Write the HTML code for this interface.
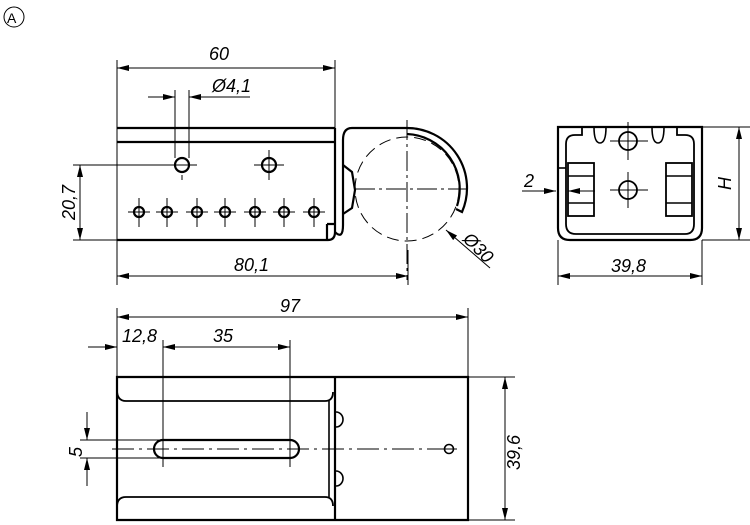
<!DOCTYPE html>
<html><head><meta charset="utf-8"><style>
html,body{margin:0;padding:0;background:#fff}
svg{display:block}
text{font-family:"Liberation Sans",sans-serif;font-style:italic;font-size:18px;fill:#000}
</style></head><body>
<svg width="750" height="525" viewBox="0 0 750 525" xmlns="http://www.w3.org/2000/svg">
<defs>
<marker id="a" viewBox="0 0 12 6" refX="12" refY="3" markerWidth="12" markerHeight="6" orient="auto-start-reverse" markerUnits="userSpaceOnUse"><path d="M0,0 L12,3 L0,6z" fill="#000"/></marker>
</defs>
<g fill="none" stroke="#000" stroke-width="1">
<circle cx="14" cy="17" r="10"/>
</g>
<text x="7" y="23" style="font-style:normal;font-size:14px">A</text>

<!-- TOP-LEFT VIEW -->
<g fill="none" stroke="#000" stroke-width="2.2">
<path d="M117,128 H335 M117,142 H335 M117,240 H328 Q335,240 335,232 V128"/>
<path d="M335,232 Q343,240 343,225 V140 Q343,128 352,128 H407"/>
<path d="M407,128 A60,60 0 0 1 462,212 L456,209 M407,134 A55,55 0 0 1 457,206"/>
<path d="M343,165 L352,172 L355,190 L352,208 L343,214"/>
<path d="M327,224 H335 M327,224 V240"/>
<circle cx="182" cy="165" r="7"/><circle cx="269" cy="165" r="7"/>
<circle cx="139" cy="212" r="5"/><circle cx="167" cy="212" r="5"/><circle cx="197" cy="212" r="5"/><circle cx="225" cy="212" r="5"/><circle cx="255" cy="212" r="5"/><circle cx="284" cy="212" r="5"/><circle cx="314" cy="212" r="5"/>
</g>
<g fill="none" stroke="#000" stroke-width="1">
<circle cx="407" cy="189" r="52" stroke-dasharray="12,6"/>
<path d="M407,120 V280 M355,189 H470" stroke-dasharray="20,4,3,4"/>
<path d="M139,198 V227 M167,198 V227 M197,198 V227 M225,198 V227 M255,198 V227 M284,198 V227 M314,198 V227 M128,212 H150 M156,212 H178 M186,212 H208 M214,212 H236 M244,212 H266 M273,212 H295 M303,212 H325"/>
<path d="M269,150 V180 M254,165 H284 M182,175 V180 M168,165 H197"/>
<path d="M117,60 V285 M335,60 V128 M408,250 V285"/>
<path d="M175,90 V158 M189,90 V158"/>
<path d="M73,165 H182 M73,240 H117"/>
<line x1="117" y1="68" x2="335" y2="68" marker-start="url(#a)" marker-end="url(#a)"/>
<line x1="148" y1="97" x2="175" y2="97" marker-end="url(#a)"/>
<line x1="250" y1="97" x2="189" y2="97" marker-end="url(#a)"/>
<line x1="80" y1="165" x2="80" y2="240" marker-start="url(#a)" marker-end="url(#a)"/>
<line x1="117" y1="276" x2="408" y2="276" marker-start="url(#a)" marker-end="url(#a)"/>
<line x1="490" y1="268" x2="446" y2="230" marker-end="url(#a)"/>
</g>
<text x="209" y="60">60</text>
<text x="212" y="92">Ø4,1</text>
<text x="234" y="271">80,1</text>
<text transform="translate(75,220) rotate(-90)">20,7</text>
<text transform="translate(462,240) rotate(45)">Ø30</text>

<!-- RIGHT VIEW -->
<g fill="none" stroke="#000" stroke-width="2.2">
<path d="M558,127 H702 V228 Q702,240 690,240 H570 Q558,240 558,228 Z"/>
<path d="M582,127 V135 H575 Q566,135 566,144 V224 Q566,234 576,234 H685 Q694,234 694,224 V144 Q694,135 685,135 H677 V127" stroke-width="1.8"/>
<path d="M594,127 Q594,143 600,143 Q606,143 606,127" stroke-width="1.6"/>
<path d="M652,127 Q652,143 658,143 Q664,143 664,127" stroke-width="1.6"/>
<rect x="568" y="163" width="26" height="53" stroke-width="1.8"/>
<rect x="666" y="163" width="26" height="53" stroke-width="1.8"/>
<path d="M568,176 H594 M568,203 H594 M666,176 H692 M666,203 H692" stroke-width="1.6"/>
<circle cx="628" cy="141" r="9" stroke-width="1.8"/>
<circle cx="628" cy="190" r="9" stroke-width="1.8"/>
<path d="M558,168 H566" stroke-width="1.6"/>
</g>
<g fill="none" stroke="#000" stroke-width="1">
<path d="M628,122 V160 M610,141 H648 M628,172 V208 M610,190 H648"/>
<path d="M558,240 V285 M702,240 V285 M702,127 H750 M702,240 H750"/>
<line x1="558" y1="276" x2="702" y2="276" marker-start="url(#a)" marker-end="url(#a)"/>
<line x1="739" y1="127" x2="739" y2="240" marker-start="url(#a)" marker-end="url(#a)"/>
<line x1="522" y1="191" x2="556" y2="191" marker-end="url(#a)"/>
<line x1="595" y1="191" x2="568" y2="191" marker-end="url(#a)"/>
</g>
<text x="611" y="272">39,8</text>
<text x="524" y="187">2</text>
<text transform="translate(731,190) rotate(-90)">H</text>

<!-- BOTTOM VIEW -->
<g fill="none" stroke="#000" stroke-width="2.2">
<path d="M117,377 H468 V520 H117 Z M335,377 V520"/>
<path d="M117,390 Q117,401 126,401 H325 Q333,401 333,392" stroke-width="1.8"/>
<path d="M117,507 Q117,497 126,497 H325 Q333,497 333,506" stroke-width="1.8"/>
<path d="M329,401 V497" stroke-width="1.6"/>
<path d="M163,440 H290 A9,9 0 0 1 290,458 H163 A9,9 0 0 1 163,440 Z"/>
<path d="M336,412 A7,7.5 0 0 1 336,427" stroke-width="1.6"/>
<path d="M336,471 A7,7.5 0 0 1 336,486" stroke-width="1.6"/>
<circle cx="449" cy="449" r="4.5" stroke-width="1.6"/>
</g>
<g fill="none" stroke="#000" stroke-width="1">
<path d="M112,449 H460" stroke-dasharray="22,5,3,5"/>
<path d="M117,308 V377 M468,308 V377 M163,340 V467 M290,340 V467 M80,440 H163 M80,458 H163 M468,377 H515 M468,520 H515 M443,449 H455"/>
<line x1="117" y1="317" x2="468" y2="317" marker-start="url(#a)" marker-end="url(#a)"/>
<line x1="88" y1="347" x2="117" y2="347" marker-end="url(#a)"/>
<line x1="163" y1="347" x2="290" y2="347" marker-start="url(#a)" marker-end="url(#a)"/>
<line x1="87" y1="412" x2="87" y2="440" marker-end="url(#a)"/>
<line x1="87" y1="486" x2="87" y2="458" marker-end="url(#a)"/>
<line x1="505" y1="377" x2="505" y2="520" marker-start="url(#a)" marker-end="url(#a)"/>
</g>
<text x="280" y="312">97</text>
<text x="122" y="342">12,8</text>
<text x="213" y="342">35</text>
<text transform="translate(82,457) rotate(-90)">5</text>
<text transform="translate(520,470) rotate(-90)">39,6</text>
</svg>
</body></html>
